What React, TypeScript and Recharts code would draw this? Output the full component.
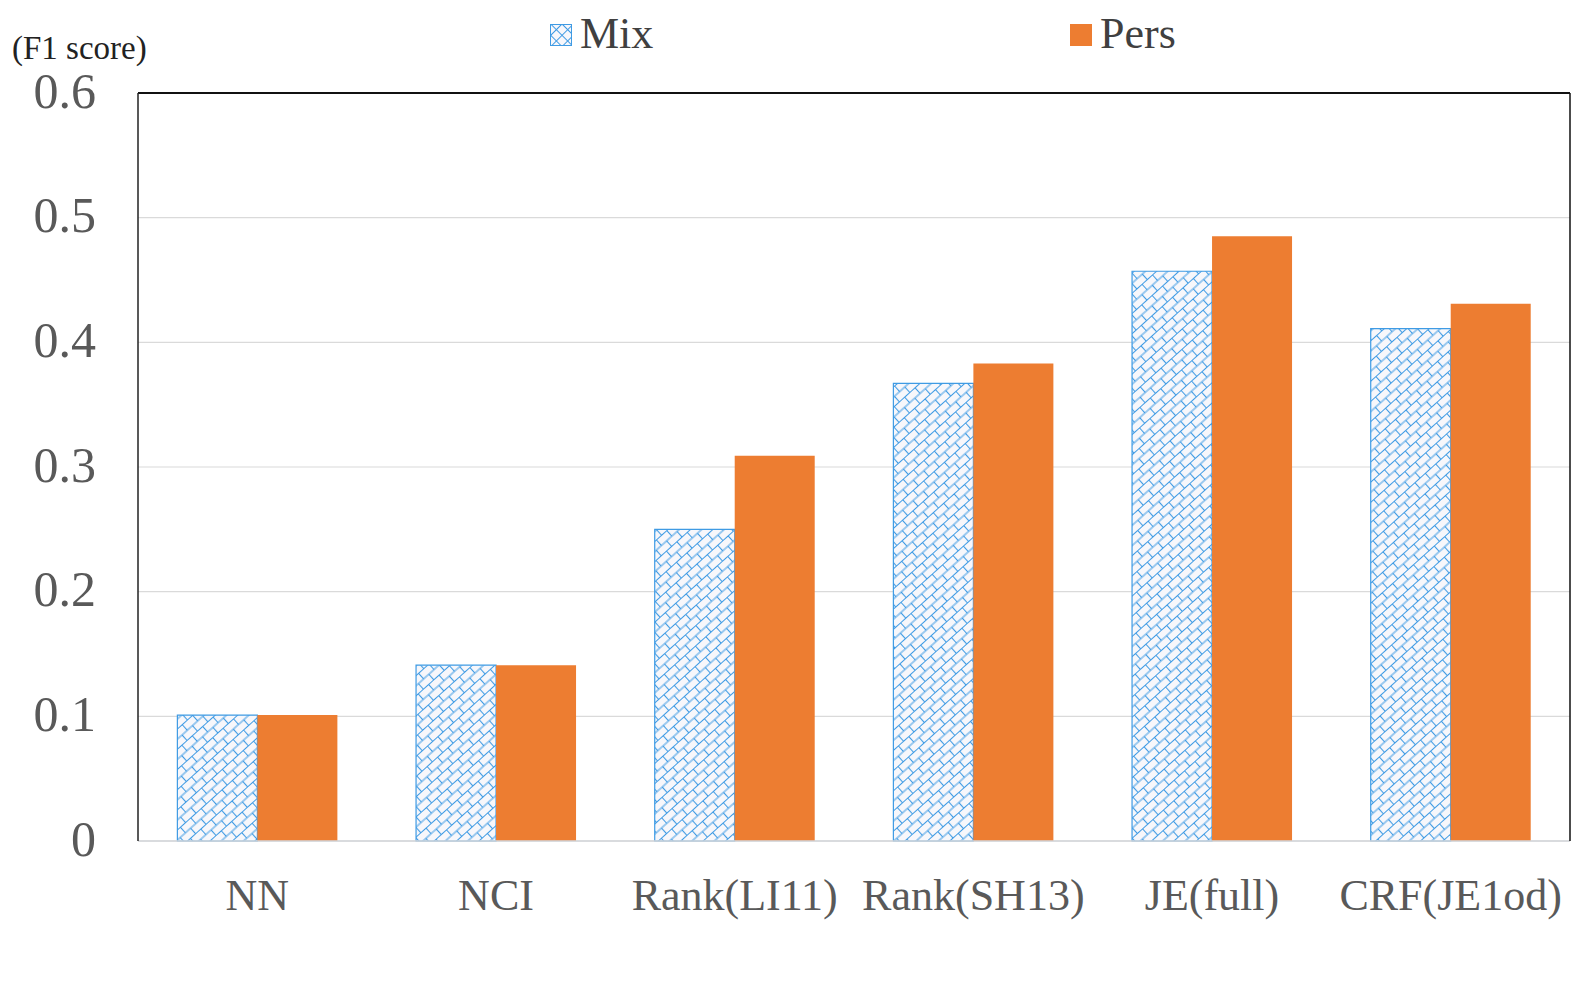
import React from 'react';
import {
  BarChart,
  Bar,
  XAxis,
  YAxis,
  CartesianGrid,
  Legend,
  ReferenceLine,
} from 'recharts';

// Methods compared on the x axis
const methods = ['NN', 'NCI', 'Rank(LI11)', 'Rank(SH13)', 'JE(full)', 'CRF(JE1od)'];
// F1 scores per method
const mixScores = [0.101, 0.141, 0.25, 0.367, 0.457, 0.411];
const persScores = [0.101, 0.141, 0.309, 0.383, 0.485, 0.431];
// Y axis ticks
const yTicks = [0, 0.1, 0.2, 0.3, 0.4, 0.5, 0.6];

const data = methods.map((m, i) => ({ method: m, Mix: mixScores[i], Pers: persScores[i] }));

const FONT = '"Liberation Serif", "Times New Roman", serif';
const BLUE = '#3f9be4';
const ORANGE = '#ED7D31';
const TICK_GRAY = '#595959';

const W = 1582;
const H = 981;

// Diagonal brick hatch used for the "Mix" series
const BrickPattern = ({ id }: { id: string }) => (
  <pattern
    id={id}
    patternUnits="userSpaceOnUse"
    width={14}
    height={15}
    patternTransform="rotate(-42)"
  >
    <rect x={0} y={0} width={14} height={15} fill="#f7f7fb" />
    <path
      d="M0 0.5 H14 M0 8 H14 M0.5 0.5 V8 M7.5 8 V15"
      stroke={BLUE}
      strokeWidth={1.1}
      fill="none"
    />
  </pattern>
);

const LegendOverlay = () => (
  <div style={{ position: 'relative', height: 0, width: W, fontFamily: FONT }}>
    <div
      style={{
        position: 'absolute',
        left: 12,
        top: 28,
        fontSize: 33,
        lineHeight: '40px',
        color: '#222',
        whiteSpace: 'nowrap',
      }}
    >
      (F1 score)
    </div>
    <svg
      width={22}
      height={22}
      style={{ position: 'absolute', left: 550, top: 24 }}
    >
      <defs>
        <pattern id="brick-legend" patternUnits="userSpaceOnUse" width={8} height={8} patternTransform="rotate(-45)">
          <rect x={0} y={0} width={8} height={8} fill="#f7f7fb" />
          <path d="M0 0.5 H8 M0.5 0 V8" stroke={BLUE} strokeWidth={1} fill="none" />
        </pattern>
      </defs>
      <rect x={0.5} y={0.5} width={21} height={21} fill="url(#brick-legend)" stroke={BLUE} strokeWidth={1} />
    </svg>
    <div
      style={{
        position: 'absolute',
        left: 580,
        top: 8,
        fontSize: 44,
        lineHeight: '52px',
        color: '#404040',
        whiteSpace: 'nowrap',
      }}
    >
      Mix
    </div>
    <div
      style={{
        position: 'absolute',
        left: 1070,
        top: 24,
        width: 22,
        height: 22,
        background: ORANGE,
      }}
    />
    <div
      style={{
        position: 'absolute',
        left: 1100,
        top: 8,
        fontSize: 44,
        lineHeight: '52px',
        color: '#404040',
        whiteSpace: 'nowrap',
      }}
    >
      Pers
    </div>
  </div>
);

export default function App() {
  return (
    <div
      style={{
        position: 'absolute',
        left: 0,
        top: 0,
        width: W,
        height: H,
        background: '#ffffff',
      }}
    >
      <BarChart
        width={W}
        height={H}
        data={data}
        margin={{ top: 93, right: 0, left: 0, bottom: 0 }}
        barCategoryGap="16.5%"
        barGap={0}
      >
        <defs>
          <BrickPattern id="brick-mix" />
        </defs>
        <CartesianGrid vertical={false} stroke="#dadada" strokeWidth={1.2} />
        <XAxis
          dataKey="method"
          height={140}
          interval={0}
          tickLine={false}
          axisLine={{ stroke: '#d3d6da', strokeWidth: 1.5 }}
          tickMargin={32}
          tick={{ fontFamily: FONT, fontSize: 44, fill: TICK_GRAY }}
        />
        <YAxis
          width={138}
          domain={[0, 0.6]}
          ticks={yTicks}
          interval={0}
          tickLine={false}
          axisLine={{ stroke: '#222', strokeWidth: 1.5 }}
          tickMargin={36}
          tickFormatter={(v: number) => (v === 0 ? '0' : String(v))}
          tick={{ fontFamily: FONT, fontSize: 50, fill: TICK_GRAY, dy: -3 }}
        />
        <YAxis
          yAxisId="frame"
          orientation="right"
          width={12}
          domain={[0, 0.6]}
          tick={false}
          tickLine={false}
          axisLine={{ stroke: '#111', strokeWidth: 1.5 }}
        />
        <ReferenceLine y={0.6} stroke="#111" strokeWidth={2} />
        <Legend
          verticalAlign="top"
          wrapperStyle={{ position: 'absolute', top: 0, left: 0, width: W, height: 0 }}
          content={() => <LegendOverlay />}
        />
        <Bar
          dataKey="Mix"
          fill="url(#brick-mix)"
          stroke={BLUE}
          strokeWidth={1.2}
          isAnimationActive={false}
        />
        <Bar dataKey="Pers" fill={ORANGE} isAnimationActive={false} />
      </BarChart>
    </div>
  );
}
